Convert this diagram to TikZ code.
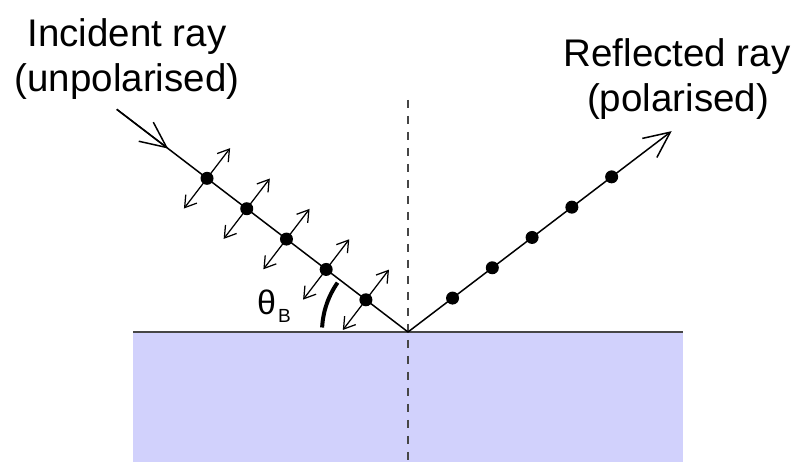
\documentclass[tikz,border=0pt]{standalone}
\usepackage{fontspec}
\setmainfont{Liberation Sans}
\usetikzlibrary{arrows.meta}
\definecolor{glass}{RGB}{209,209,252}
\definecolor{normalgray}{RGB}{70,70,70}
\definecolor{surfgray}{RGB}{70,70,70}
\tikzset{
  ray/.style={line width=1.5pt, black},
  bigtip/.style={-{Straight Barb[length=26pt,width=24pt,line width=1.5pt]}},
  pol/.style={line width=1.25pt, {Straight Barb[length=11pt,width=14pt,line width=1.25pt]}-{Straight Barb[length=11pt,width=14pt,line width=1.25pt]}},
  dot/.style={circle, fill=black, inner sep=0pt, minimum size=13pt},
  lbl/.style={anchor=base, inner sep=0pt, font=\fontsize{38.5}{45}\selectfont},
}
\begin{document}
\begin{tikzpicture}[x=1pt,y=1pt]
\useasboundingbox (0,0) rectangle (799,462);
% glass block
\fill[glass] (133,0) rectangle (683,130);
\coordinate (O) at (408,130);
\coordinate (SL) at (133,130);
\coordinate (SR) at (683,130);
\draw[surfgray, line width=1.4pt] (SL) -- (SR);
% normal
\coordinate (NT) at (408,362);
\coordinate (NB) at (408,0);
\draw[normalgray, line width=2.2pt, dash pattern=on 8pt off 8pt] (NT) -- (NB);
% incident ray
\coordinate (S) at ([shift={(142.6:366.6)}]O);
\coordinate (A) at ([shift={(142.6:302)}]O);
\draw[ray] (S) -- (O);
\draw[ray, bigtip] (S) -- (A);
% reflected ray
\coordinate (R) at ([shift={(37.3:331.5)}]O);
\draw[ray, bigtip] (O) -- (R);
% dots on incident ray with polarisation arrows
\foreach \d [count=\i] in {53,103,153,203,253} {
  \node[dot] (i\i) at ([shift={(142.6:\d)}]O) {};
  \draw[pol] ([shift={(232.6:38)}]i\i.center) -- ([shift={(52.6:38)}]i\i.center);
}
% dots on reflected ray
\foreach \d [count=\i] in {56,106,156,206,256} {
  \node[dot] (r\i) at ([shift={(37.3:\d)}]O) {};
}
% angle arc
\draw[line width=4pt] ([shift={(177:86)}]O) arc[start angle=177, end angle=145, radius=86];
\node[anchor=base west, inner sep=0pt, font=\fontsize{34}{34}\selectfont] (thetaB) at (257,147) {θ\kern2pt\raisebox{-8pt}{\fontsize{19}{19}\selectfont B}};
% labels
\node[lbl] (inc1) at (127,415) {Incident ray};
\node[lbl] (inc2) at (127,370) {(unpolarised)};
\node[lbl] (ref1) at (677,395) {Reflected ray};
\node[lbl] (ref2) at (678,350) {(polarised)};
\end{tikzpicture}
\end{document}
